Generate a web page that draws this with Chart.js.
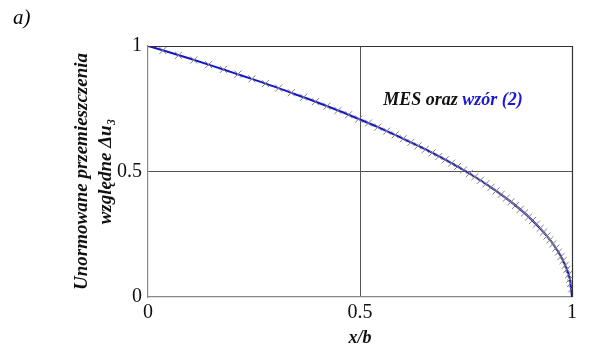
<!DOCTYPE html>
<html>
<head>
<meta charset="utf-8">
<script src="https://cdn.jsdelivr.net/npm/chart.js@4.4.0/dist/chart.umd.min.js"></script>
<style>
	html, body { margin: 0; padding: 0; background: #fff; }
	#wrap { width: 596px; height: 347px; }
</style>
</head>
<body>
<div id="wrap"><canvas id="plot"></canvas></div>
<script>
// curve (wzór (2))
var lineX = [0, 0.05, 0.1, 0.15, 0.2, 0.25, 0.3, 0.35, 0.4, 0.45, 0.5, 0.55, 0.6, 0.65, 0.7, 0.75, 0.8, 0.85, 0.9, 0.95, 0.97, 0.98, 0.99, 0.995, 1];
var lineY = [1, 0.975, 0.949, 0.922, 0.894, 0.866, 0.837, 0.806, 0.775, 0.742, 0.707, 0.671, 0.632, 0.592, 0.548, 0.5, 0.447, 0.387, 0.316, 0.224, 0.173, 0.141, 0.1, 0.071, 0];

// MES nodes (gray crosses)
var mesX = [0.035, 0.072, 0.108, 0.143, 0.178, 0.212, 0.245, 0.277, 0.308, 0.338, 0.367, 0.395, 0.422, 0.448, 0.473, 0.497, 0.52, 0.542, 0.563, 0.583, 0.602, 0.62, 0.637, 0.654, 0.67, 0.686, 0.701, 0.716, 0.73, 0.744, 0.758, 0.771, 0.784, 0.797, 0.809, 0.821, 0.833, 0.845, 0.856, 0.867, 0.878, 0.888, 0.898, 0.907, 0.916, 0.925, 0.933, 0.941, 0.948, 0.955, 0.962, 0.968, 0.974, 0.979, 0.984, 0.988, 0.992, 0.995, 0.997, 0.999];
var mesY = [0.982, 0.963, 0.944, 0.926, 0.907, 0.888, 0.869, 0.850, 0.832, 0.814, 0.796, 0.778, 0.760, 0.743, 0.726, 0.709, 0.693, 0.677, 0.661, 0.646, 0.631, 0.616, 0.602, 0.588, 0.574, 0.560, 0.547, 0.533, 0.520, 0.506, 0.492, 0.479, 0.465, 0.451, 0.437, 0.423, 0.409, 0.394, 0.379, 0.365, 0.349, 0.335, 0.319, 0.305, 0.290, 0.274, 0.259, 0.243, 0.228, 0.212, 0.195, 0.179, 0.161, 0.145, 0.126, 0.110, 0.089, 0.071, 0.055, 0.032];

var xTicks = [0, 0.5, 1];
var yTicks = [0, 0.5, 1];
var tickText = {0: "0", 0.5: "0.5", 1: "1"};

var serif = "'Liberation Serif', 'Times New Roman', serif";

function pairs(xs, ys) {
	var out = [];
	for (let i = 0; i < xs.length; i++) {
		out.push({x: xs[i], y: ys[i]});
	}
	return out;
}

// frame on top/right, the "a)" label and the inline legend text
var extras = {
	id: "extras",
	afterDraw: function(chart) {
		var ctx = chart.ctx;
		var a = chart.chartArea;
		ctx.save();
		ctx.strokeStyle = "#333";
		ctx.lineWidth = 1.2;
		ctx.beginPath();
		ctx.moveTo(a.left, a.top + 0.5);
		ctx.lineTo(a.right + 0.5, a.top + 0.5);
		ctx.lineTo(a.right + 0.5, a.bottom);
		ctx.stroke();

		ctx.fillStyle = "#000";
		ctx.font = "italic 21px " + serif;
		ctx.textBaseline = "alphabetic";
		ctx.fillText("a)", 13, 24);

		var px = chart.scales.x.getPixelForValue(0.555);
		var py = chart.scales.y.getPixelForValue(0.765);
		ctx.font = "italic bold 18px " + serif;
		ctx.fillStyle = "#111";
		ctx.fillText("MES oraz ", px, py);
		var w = ctx.measureText("MES oraz ").width;
		ctx.fillStyle = "#1a1acc";
		ctx.fillText("wzór (2)", px + w, py);
		ctx.restore();
	}
};

function midGrid(ctx) {
	return ctx.tick && ctx.tick.value === 0.5 ? "#555" : "rgba(0,0,0,0)";
}

new Chart(document.getElementById("plot"), {
	type: "scatter",
	data: {
		datasets: [{
			label: "MES",
			data: pairs(mesX, mesY),
			showLine: false,
			pointStyle: "crossRot",
			pointRadius: 5,
			pointBorderWidth: 1,
			borderColor: "#808080",
			backgroundColor: "#808080"
		}, {
			label: "wzór (2)",
			data: pairs(lineX, lineY),
			showLine: true,
			pointRadius: 0,
			borderColor: "#1515c8",
			borderWidth: 2,
			cubicInterpolationMode: "monotone"
		}]
	},
	options: {
		responsive: true,
		maintainAspectRatio: false,
		animation: false,
		layout: { padding: { left: 70, right: 24, top: 46, bottom: 0 } },
		plugins: {
			legend: { display: false },
			tooltip: { enabled: false }
		},
		scales: {
			x: {
				type: "linear",
				min: 0,
				max: 1,
				afterBuildTicks: function(s) { s.ticks = xTicks.map(function(v) { return {value: v}; }); },
				grid: { color: midGrid, lineWidth: 1, drawTicks: false },
				border: { color: "#888", width: 1.2 },
				ticks: {
					color: "#111",
					font: { family: serif, size: 20 },
					padding: 4,
					maxRotation: 0,
					callback: function(v) { return tickText[v]; }
				},
				title: {
					display: true,
					text: "x/b",
					color: "#111",
					font: { family: serif, size: 18, style: "italic", weight: "bold", lineHeight: 1 },
					padding: { top: 0, bottom: 0 }
				}
			},
			y: {
				type: "linear",
				min: 0,
				max: 1,
				afterBuildTicks: function(s) { s.ticks = yTicks.map(function(v) { return {value: v}; }); },
				afterFit: function(s) { s.width = 78; },
				grid: { color: midGrid, lineWidth: 1, drawTicks: false },
				border: { color: "#888", width: 1.2 },
				ticks: {
					color: "#111",
					font: { family: serif, size: 20 },
					padding: 6,
					callback: function(v) { return tickText[v]; }
				},
				title: {
					display: true,
					text: ["Unormowane przemieszczenia", "względne Δu₃"],
					color: "#111",
					font: { family: serif, size: 19, style: "italic", weight: "bold", lineHeight: 1.25 },
					padding: { top: 0, bottom: 0 }
				}
			}
		}
	},
	plugins: [extras]
});
</script>
</body>
</html>
